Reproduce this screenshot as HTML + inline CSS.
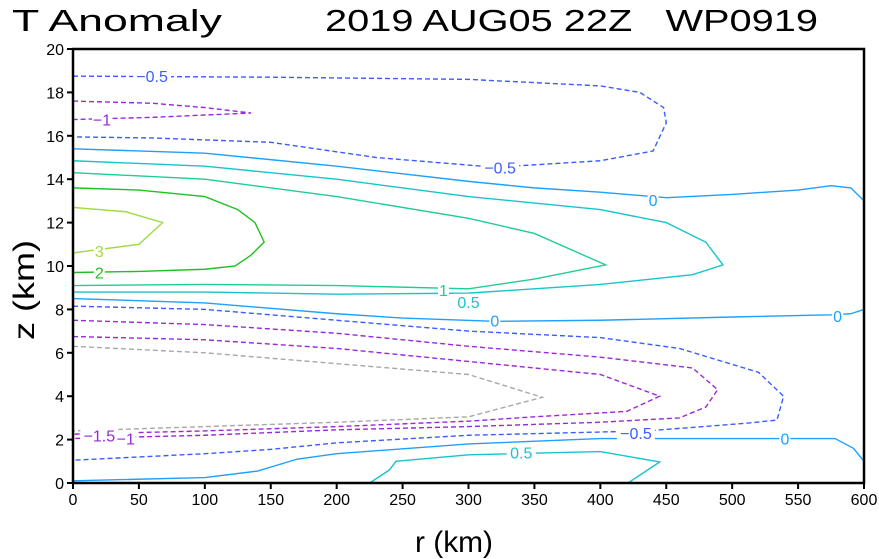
<!DOCTYPE html>
<html><head><meta charset="utf-8"><style>
body{margin:0;background:#fff;}
svg{display:block;font-family:"Liberation Sans",sans-serif;}
</style></head><body>
<svg id="chart" width="879" height="559" viewBox="0 0 879 559">
<text x="12" y="31" font-size="31" textLength="210" lengthAdjust="spacingAndGlyphs">T Anomaly</text>
<text x="325" y="31" font-size="31" textLength="493" lengthAdjust="spacingAndGlyphs" xml:space="preserve">2019 AUG05 22Z   WP0919</text>
<g id="axes"></g>
<g id="contours"></g>
<rect x="73" y="49" width="791" height="434" fill="none" stroke="#000" stroke-width="2.5"/>
<text x="0" y="0" font-size="30" transform="translate(34,290) rotate(-90)" text-anchor="middle" textLength="100" lengthAdjust="spacingAndGlyphs">z (km)</text>
<text x="454" y="552" font-size="30" text-anchor="middle" textLength="78" lengthAdjust="spacingAndGlyphs">r (km)</text>
</svg>
<script>
const xTicks=[0,50,100,150,200,250,300,350,400,450,500,550,600];
const yTicks=[0,2,4,6,8,10,12,14,16,18,20];
// contour lines: [r, z] pairs
const cNeg05Top=[[0,18.75],[150,18.7],[300,18.6],[400,18.3],[430,18.0],[448,17.3],[450,16.6],[440,15.3],[400,14.85],[320,14.55],[230,15.0],[150,15.7],[60,15.9],[0,15.95]];
const cNeg1Top=[[0,17.6],[60,17.5],[100,17.3],[135,17.05],[60,16.85],[0,16.75]];
const c0Upper=[[0,15.4],[100,15.2],[200,14.6],[300,13.9],[350,13.6],[400,13.4],[450,13.15],[500,13.3],[550,13.5],[575,13.7],[590,13.6],[600,13.0]];
const c05Upper=[[0,14.85],[100,14.6],[200,14.0],[300,13.2],[400,12.6],[450,12.0],[480,11.1],[493,10.05],[470,9.6],[400,9.15],[300,8.75],[200,8.7],[100,8.8],[0,8.8]];
const c1=[[0,14.3],[100,14.0],[200,13.2],[300,12.2],[350,11.5],[404,10.05],[350,9.4],[300,8.95],[200,9.1],[100,9.15],[0,9.1]];
const c2=[[0,13.6],[50,13.5],[100,13.2],[125,12.6],[138,12.0],[145,11.1],[135,10.5],[123,10.0],[100,9.85],[50,9.75],[0,9.7]];
const c3=[[0,12.7],[40,12.5],[68,12.0],[50,11.0],[0,10.6]];
const c0Mid=[[0,8.5],[100,8.3],[200,7.8],[250,7.6],[320,7.45],[400,7.5],[500,7.65],[575,7.75],[590,7.8],[600,8.0]];
const cNeg05Mid=[[0,8.15],[100,8.0],[200,7.5],[300,7.0],[400,6.7],[460,6.2],[520,5.1],[539,4.0],[534,2.9],[510,2.75],[435,2.4],[400,2.35],[300,2.2],[200,1.85],[150,1.55],[100,1.35],[50,1.2],[0,1.05]];
const cNeg1Mid=[[0,7.5],[100,7.3],[200,6.9],[300,6.3],[400,5.8],[470,5.3],[489,4.3],[480,3.5],[460,3.0],[400,2.8],[300,2.6],[200,2.45],[100,2.2],[0,2.05]];
const cNeg15=[[0,6.75],[100,6.6],[200,6.2],[300,5.6],[400,5.0],[445,4.0],[420,3.3],[350,3.05],[300,2.85],[200,2.6],[100,2.4],[0,2.25]];
const cNeg2=[[0,6.3],[100,6.0],[200,5.5],[300,5.0],[356,3.95],[300,3.05],[200,2.8],[100,2.6],[0,2.4]];
const c0Lower=[[0,0.1],[100,0.25],[140,0.55],[170,1.1],[200,1.35],[300,1.8],[400,2.05],[500,2.05],[550,2.05],[578,2.05],[592,1.6],[600,1.0]];
const c05Lower=[[225,0],[240,0.6],[245,1.0],[300,1.3],[400,1.45],[445,0.97],[421,0]];
const contourLevels=[-0.5,-1,0,0.5,1,2,3,0,-0.5,-1,-1.5,-2,0,0.5];
const contourData=[cNeg05Top,cNeg1Top,c0Upper,c05Upper,c1,c2,c3,c0Mid,cNeg05Mid,cNeg1Mid,cNeg15,cNeg2,c0Lower,c05Lower];
const labelText=["-0.5","-1","-0.5","0","1","0.5","0","0","3","2","-1.5","-1","-0.5","0","0.5"];
const labelR=[60,22,324,440,281,300,320,580,20,20,20,40,427,540,340];
const labelZ=[18.75,16.75,14.55,13.05,8.9,8.35,7.5,7.7,10.7,9.7,2.2,2.05,2.3,2.05,1.4];
const labelLevel=[-0.5,-1,-0.5,0,1,0.5,0,0,3,2,-1.5,-1,-0.5,0,0.5];

const X0=73,X1=864,Y0=483,Y1=49;
const xs=r=>X0+(r/600)*(X1-X0);
const ys=z=>Y0-(z/20)*(Y0-Y1);
const colorFor=l=>({"-2":"#a8a8a8","-1.5":"#9a28d8","-1":"#9a28d8","-0.5":"#3c5cff","0":"#1ea0ff","0.5":"#18c4cc","1":"#20cc98","2":"#20c020","3":"#a0dc40"})[String(l)];
const NS="http://www.w3.org/2000/svg";
const ax=document.getElementById('axes');
xTicks.forEach(t=>{
  const l=document.createElementNS(NS,'line');
  l.setAttribute('x1',xs(t));l.setAttribute('x2',xs(t));l.setAttribute('y1',Y0);l.setAttribute('y2',Y0+6);l.setAttribute('stroke','#000');l.setAttribute('stroke-width','2');
  
  
  ax.appendChild(l);
  const tx=document.createElementNS(NS,'text');
  tx.setAttribute('x',xs(t));tx.setAttribute('y',Y0+22);tx.setAttribute('text-anchor','middle');tx.setAttribute('font-size','16');tx.textContent=t;
  
  
  ax.appendChild(tx);
});
yTicks.forEach(t=>{
  const l=document.createElementNS(NS,'line');
  l.setAttribute('x1',X0-6);l.setAttribute('x2',X0);l.setAttribute('y1',ys(t));l.setAttribute('y2',ys(t));l.setAttribute('stroke','#000');l.setAttribute('stroke-width','2');
  
  
  ax.appendChild(l);
  const tx=document.createElementNS(NS,'text');
  tx.setAttribute('x',X0-9);tx.setAttribute('y',ys(t)+6);tx.setAttribute('text-anchor','end');tx.setAttribute('font-size','16');tx.textContent=t;
  
  
  ax.appendChild(tx);
});
const cg=document.getElementById('contours');
contourData.forEach((pts,i)=>{
  const lev=contourLevels[i];
  const p=document.createElementNS(NS,'polyline');
  p.setAttribute('points',pts.map(q=>xs(q[0])+','+ys(q[1])).join(' '));
  p.setAttribute('fill','none');p.setAttribute('stroke',colorFor(lev));p.setAttribute('stroke-width','1.4');
  if(lev<0)p.setAttribute('stroke-dasharray','5,3');
  
  
  cg.appendChild(p);
});
labelText.forEach((s,i)=>{
  const x=xs(labelR[i]),y=ys(labelZ[i]);
  const w=s.length*9+2;
  const r=document.createElementNS(NS,'rect');
  r.setAttribute('x',x-w/2);r.setAttribute('y',y-8);r.setAttribute('width',w);r.setAttribute('height',16);r.setAttribute('fill','#fff');
  
  
  cg.appendChild(r);
  const t=document.createElementNS(NS,'text');
  t.setAttribute('x',x);t.setAttribute('y',y+6);t.setAttribute('text-anchor','middle');t.setAttribute('font-size','16');t.setAttribute('fill',colorFor(labelLevel[i]));
  t.textContent=s.replace('-','\u2212');
  
  
  cg.appendChild(t);
});
</script>
</body></html>
